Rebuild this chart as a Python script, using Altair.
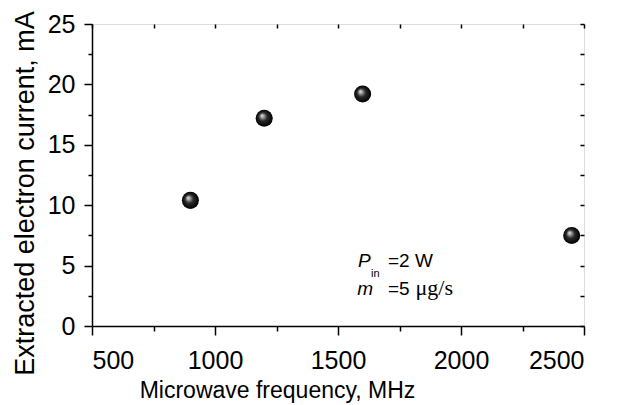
import altair as alt
import pandas as pd

# Data
freq_mhz = [900, 1200, 1600, 2450]
current_ma = [10.4, 17.2, 19.2, 7.5]

x_ticks = [500, 750, 1000, 1250, 1500, 1750, 2000, 2250, 2500]
y_ticks = [0, 2.5, 5, 7.5, 10, 12.5, 15, 17.5, 20, 22.5, 25]

# annotation pieces (positioned in data coordinates)
ann_italic_text = ["P", "m"]
ann_italic_x = [1581, 1578]
ann_italic_y = [4.88, 2.57]
ann_sub_text = ["in"]
ann_sub_x = [1634]
ann_sub_y = [4.02]
ann_plain_text = ["=2 W", "=5"]
ann_plain_x = [1703, 1703]
ann_plain_y = [4.88, 2.57]
ann_serif_text = ["\u03bcg/s"]
ann_serif_x = [1815]
ann_serif_y = [2.57]

FONT = "Liberation Sans"

df = pd.DataFrame({"f": freq_mhz, "i": current_ma})

xs = alt.Scale(domain=[500, 2500], nice=False, zero=False)
ys = alt.Scale(domain=[0, 25], nice=False, zero=False)

sphere = alt.RadialGradient(
    gradient="radial",
    x1=0.36, y1=0.34, r1=0.0,
    x2=0.5, y2=0.5, r2=0.5,
    stops=[
        alt.GradientStop(offset=0.0, color="#f4f4f4"),
        alt.GradientStop(offset=0.2, color="#a0a0a0"),
        alt.GradientStop(offset=0.5, color="#2a2a2a"),
        alt.GradientStop(offset=1.0, color="#000000"),
    ],
)

x_axis = alt.Axis(
    title="Microwave frequency, MHz",
    values=x_ticks,
    format="d",
    labelExpr="datum.value % 500 === 0 ? datum.label : ''",
    tickSize={"condition": {"test": "datum.value % 500 === 0", "value": 9}, "value": 5},
    labelBaseline="alphabetic",
    labelPadding=33,
    labelFont=FONT, labelFontSize=25, labelColor="black",
    titleFont=FONT, titleFontSize=23, titleFontWeight="normal", titleColor="black",
    titleBaseline="alphabetic", titleX=185, titleY=71, titleAnchor="middle",
    domainColor="black", domainWidth=1.5, tickColor="black", tickWidth=1.5,
    grid=False,
)
y_axis = alt.Axis(
    title="Extracted electron current, mA",
    values=y_ticks,
    labelExpr="datum.value % 5 === 0 ? datum.label : ''",
    tickSize={"condition": {"test": "datum.value % 5 === 0", "value": 8}, "value": 4},
    labelPadding=9,
    labelFont=FONT, labelFontSize=25, labelColor="black",
    titleFont=FONT, titleFontSize=27, titleFontWeight="normal", titleColor="black",
    titleBaseline="alphabetic", titleX=-59, titleY=169, titleAngle=270,
    domainColor="black", domainWidth=1.5, tickColor="black", tickWidth=1.5,
    grid=False,
)

points = alt.Chart(df).mark_circle(size=290, opacity=1, fill=sphere, stroke=None).encode(
    x=alt.X("f:Q", scale=xs, axis=x_axis),
    y=alt.Y("i:Q", scale=ys, axis=y_axis),
)

mirror = alt.Chart(df).mark_point(opacity=0).encode(
    x=alt.X("f:Q", scale=xs, axis=alt.Axis(orient="top", title=None, values=x_ticks, labels=False,
                                           domain=False, tickSize=4, offset=-4, tickColor="black",
                                           tickWidth=1.5, grid=False)),
    y=alt.Y("i:Q", scale=ys, axis=alt.Axis(orient="right", title=None, values=y_ticks, labels=False,
                                           domain=False, tickSize=4, offset=-4, tickColor="black",
                                           tickWidth=1.5, grid=False)),
)

def text_layer(texts, xv, yv, **kw):
    d = pd.DataFrame({"t": texts, "x": xv, "y": yv})
    return alt.Chart(d).mark_text(align="left", baseline="alphabetic", color="black", **kw).encode(
        x=alt.X("x:Q", scale=xs, axis=None), y=alt.Y("y:Q", scale=ys, axis=None), text="t:N")

ann = [
    text_layer(ann_italic_text, ann_italic_x, ann_italic_y, font=FONT, fontSize=19, fontStyle="italic"),
    text_layer(ann_sub_text, ann_sub_x, ann_sub_y, font=FONT, fontSize=11),
    text_layer(ann_plain_text, ann_plain_x, ann_plain_y, font=FONT, fontSize=19),
    text_layer(ann_serif_text, ann_serif_x, ann_serif_y, font="Liberation Serif", fontSize=22),
]

chart = (
    alt.layer(mirror, points, *ann)
    .resolve_axis(x="independent", y="independent")
    .properties(
        width=492, height=302,
        autosize=alt.AutoSizeParams(type="none"),
        padding={"left": 84, "top": 16, "right": 32, "bottom": 79},
    )
    .configure_view(stroke="black", strokeWidth=1.5)
    .configure(background="white")
)

chart.save("out.html", embed_options={"renderer": "svg", "actions": False})
